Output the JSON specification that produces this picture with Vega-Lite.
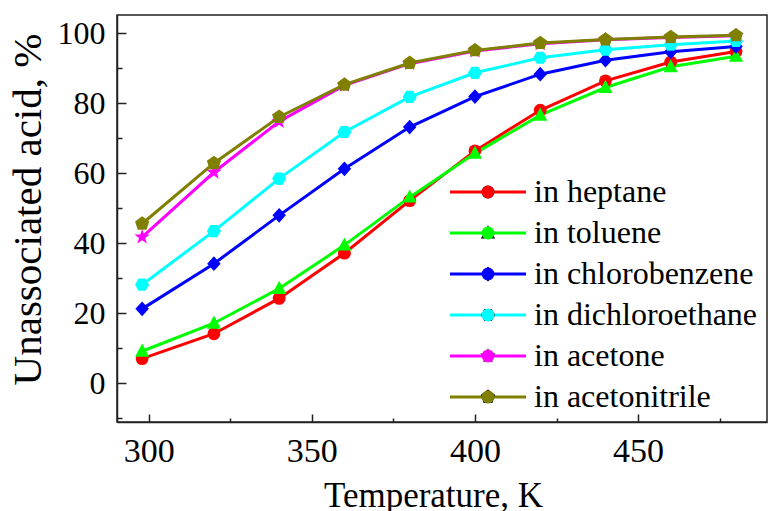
{
  "$schema": "https://vega.github.io/schema/vega-lite/v6.json",
  "autosize": {"type": "none"},
  "padding": {"left": 117, "top": 15, "right": 1, "bottom": 89},
  "width": 650,
  "height": 407,
  "background": "white",
  "config": {
    "view": {"stroke": "#222", "strokeWidth": 1.5},
    "font": "Liberation Serif",
    "axis": {
      "domainColor": "#222",
      "domainWidth": 1.5,
      "tickColor": "#222",
      "tickWidth": 1.5,
      "grid": false,
      "labelFont": "Liberation Serif",
      "labelColor": "black",
      "titleFont": "Liberation Serif",
      "titleColor": "black",
      "titleFontWeight": "normal"
    }
  },
  "data": {
    "values": [
      {"T": 298, "v": 7.1, "s": "in heptane"},
      {"T": 320, "v": 14.2, "s": "in heptane"},
      {"T": 340, "v": 24.3, "s": "in heptane"},
      {"T": 360, "v": 37.2, "s": "in heptane"},
      {"T": 380, "v": 52.2, "s": "in heptane"},
      {"T": 400, "v": 66.4, "s": "in heptane"},
      {"T": 420, "v": 78.0, "s": "in heptane"},
      {"T": 440, "v": 86.4, "s": "in heptane"},
      {"T": 460, "v": 91.8, "s": "in heptane"},
      {"T": 480, "v": 94.8, "s": "in heptane"},
      {"T": 298, "v": 9.2, "s": "in toluene"},
      {"T": 320, "v": 17.2, "s": "in toluene"},
      {"T": 340, "v": 27.1, "s": "in toluene"},
      {"T": 360, "v": 39.5, "s": "in toluene"},
      {"T": 380, "v": 53.2, "s": "in toluene"},
      {"T": 400, "v": 65.7, "s": "in toluene"},
      {"T": 420, "v": 76.6, "s": "in toluene"},
      {"T": 440, "v": 84.5, "s": "in toluene"},
      {"T": 460, "v": 90.4, "s": "in toluene"},
      {"T": 480, "v": 93.4, "s": "in toluene"},
      {"T": 298, "v": 21.3, "s": "in chlorobenzene"},
      {"T": 320, "v": 34.2, "s": "in chlorobenzene"},
      {"T": 340, "v": 48.0, "s": "in chlorobenzene"},
      {"T": 360, "v": 61.3, "s": "in chlorobenzene"},
      {"T": 380, "v": 73.2, "s": "in chlorobenzene"},
      {"T": 400, "v": 81.9, "s": "in chlorobenzene"},
      {"T": 420, "v": 88.3, "s": "in chlorobenzene"},
      {"T": 440, "v": 92.3, "s": "in chlorobenzene"},
      {"T": 460, "v": 94.7, "s": "in chlorobenzene"},
      {"T": 480, "v": 96.2, "s": "in chlorobenzene"},
      {"T": 298, "v": 28.2, "s": "in dichloroethane"},
      {"T": 320, "v": 43.5, "s": "in dichloroethane"},
      {"T": 340, "v": 58.5, "s": "in dichloroethane"},
      {"T": 360, "v": 71.8, "s": "in dichloroethane"},
      {"T": 380, "v": 81.8, "s": "in dichloroethane"},
      {"T": 400, "v": 88.7, "s": "in dichloroethane"},
      {"T": 420, "v": 93.0, "s": "in dichloroethane"},
      {"T": 440, "v": 95.3, "s": "in dichloroethane"},
      {"T": 460, "v": 96.7, "s": "in dichloroethane"},
      {"T": 480, "v": 97.8, "s": "in dichloroethane"},
      {"T": 298, "v": 41.8, "s": "in acetone"},
      {"T": 320, "v": 60.3, "s": "in acetone"},
      {"T": 340, "v": 74.8, "s": "in acetone"},
      {"T": 360, "v": 85.1, "s": "in acetone"},
      {"T": 380, "v": 91.3, "s": "in acetone"},
      {"T": 400, "v": 94.9, "s": "in acetone"},
      {"T": 420, "v": 97.0, "s": "in acetone"},
      {"T": 440, "v": 98.1, "s": "in acetone"},
      {"T": 460, "v": 98.8, "s": "in acetone"},
      {"T": 480, "v": 99.3, "s": "in acetone"},
      {"T": 298, "v": 45.6, "s": "in acetonitrile"},
      {"T": 320, "v": 62.9, "s": "in acetonitrile"},
      {"T": 340, "v": 76.1, "s": "in acetonitrile"},
      {"T": 360, "v": 85.3, "s": "in acetonitrile"},
      {"T": 380, "v": 91.5, "s": "in acetonitrile"},
      {"T": 400, "v": 95.1, "s": "in acetonitrile"},
      {"T": 420, "v": 97.2, "s": "in acetonitrile"},
      {"T": 440, "v": 98.2, "s": "in acetonitrile"},
      {"T": 460, "v": 98.9, "s": "in acetonitrile"},
      {"T": 480, "v": 99.4, "s": "in acetonitrile"}
    ]
  },
  "encoding": {
    "x": {
      "field": "T",
      "type": "quantitative",
      "scale": {"domain": [290.3, 489.5], "nice": false, "zero": false},
      "axis": {
        "title": "Temperature, K",
        "titleFontSize": 35,
        "titleX": 316,
        "titleY": 84,
        "titleAnchor": null,
        "titleAlign": "center",
        "titleBaseline": "alphabetic",
        "values": [300, 325, 350, 375, 400, 425, 450, 475],
        "labelExpr": "datum.value % 50 === 0 ? datum.label : ''",
        "labelFontSize": 34,
        "labelPadding": 20,
        "tickSize": {"condition": {"test": "datum.value % 50 === 0", "value": -8}, "value": -4}
      }
    },
    "y": {
      "field": "v",
      "type": "quantitative",
      "scale": {"domain": [-11, 105.2], "nice": false, "zero": false},
      "axis": {
        "title": "Unassociated acid, %",
        "titleFontSize": 41,
        "titleX": -77,
        "titleY": 194,
        "titleAnchor": null,
        "titleAlign": "center",
        "titleBaseline": "alphabetic",
        "titleAngle": -90,
        "values": [-10, 0, 10, 20, 30, 40, 50, 60, 70, 80, 90, 100],
        "labelExpr": "datum.value % 20 === 0 ? datum.label : ''",
        "labelFontSize": 32,
        "labelPadding": 21,
        "tickSize": {"condition": {"test": "datum.value % 20 === 0", "value": -9}, "value": -5}
      }
    }
  },
  "layer": [
    {
      "mark": {"type": "line", "strokeWidth": 3},
      "encoding": {
        "stroke": {
          "field": "s",
          "type": "nominal",
          "scale": {
            "domain": ["in heptane", "in toluene", "in chlorobenzene", "in dichloroethane", "in acetone", "in acetonitrile"],
            "range": ["#ff0000", "#00ff00", "#0000ff", "#00ffff", "#ff00ff", "#808000"]
          },
          "legend": {
            "title": null,
            "orient": "none",
            "legendX": 355,
            "legendY": 161,
            "labelFont": "Liberation Serif",
            "labelFontSize": 32,
            "labelColor": "black",
            "labelLimit": 0,
            "labelOffset": 30,
            "symbolSize": 165,
            "symbolType": "M-5.92,0H5.92",
            "symbolStrokeWidth": 3,
            "rowPadding": 9
          }
        }
      }
    },
    {
      "mark": {"type": "point", "filled": true, "opacity": 1, "size": 165},
      "encoding": {
        "fill": {
          "field": "s",
          "type": "nominal",
          "sort": ["in heptane", "in toluene", "in chlorobenzene", "in dichloroethane", "in acetone", "in acetonitrile"],
          "scale": {"range": ["#ff0000", "#00ff00", "#0000ff", "#00ffff", "#ff00ff", "#808000"]},
          "legend": {
            "title": null,
            "orient": "none",
            "legendX": 355,
            "legendY": 161,
            "labelFont": "Liberation Serif",
            "labelFontSize": 32,
            "labelColor": "black",
            "labelOpacity": 0,
            "labelLimit": 0,
            "labelOffset": 30,
            "symbolSize": 165,
            "symbolOpacity": 1,
            "rowPadding": 9
          }
        },
        "shape": {
          "field": "s",
          "type": "nominal",
          "sort": ["in heptane", "in toluene", "in chlorobenzene", "in dichloroethane", "in acetone", "in acetonitrile"],
          "scale": {
            "range": [
              "circle",
              "M0,-1.2L1.1,0.85L-1.1,0.85Z",
              "M-1.05,0L0,-1.15L1.05,0L0,1.15Z",
              "M-0.55,-0.95L0.55,-0.95L1.1,0L0.55,0.95L-0.55,0.95L-1.1,0Z",
              "M0,-1.25L0.3,-0.4L1.2,-0.38L0.48,0.15L0.74,1L0,0.5L-0.74,1L-0.48,0.15L-1.2,-0.38L-0.3,-0.4Z",
              "M0,-1.15L1.1,-0.36L0.68,0.93L-0.68,0.93L-1.1,-0.36Z"
            ]
          },
          "legend": {
            "title": null,
            "orient": "none",
            "legendX": 355,
            "legendY": 161,
            "labelFont": "Liberation Serif",
            "labelFontSize": 32,
            "labelColor": "black",
            "labelOpacity": 0,
            "labelLimit": 0,
            "labelOffset": 30,
            "symbolSize": 165,
            "symbolOpacity": 1,
            "rowPadding": 9
          }
        }
      }
    }
  ]
}
